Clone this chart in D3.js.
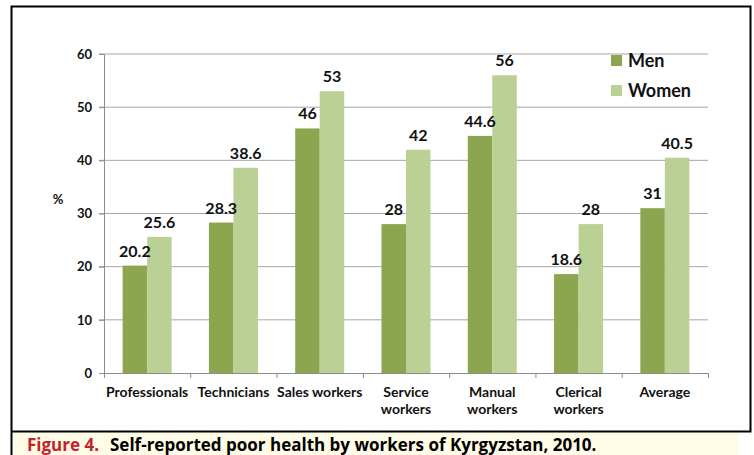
<!DOCTYPE html>
<html>
  <head>
    <title>Self-reported poor health</title>
    <script src="https://d3js.org/d3.v7.min.js"></script>
    <style>
        body { margin: 0; background: white; }
        svg { display: block; }
    </style>
  </head>
  <body>
    <svg id="chart_svg" width="754" height="455"></svg>
  </body>
  <script>
    // data
    const categories = [["Professionals"], ["Technicians"], ["Sales workers"], ["Service", "workers"],
                        ["Manual", "workers"], ["Clerical", "workers"], ["Average"]];
    const series = ["Men", "Women"];
    const menValues = [20.2, 28.3, 46, 28, 44.6, 18.6, 31];
    const womenValues = [25.6, 38.6, 53, 42, 56, 28, 40.5];
    const yTicks = [0, 10, 20, 30, 40, 50, 60];
    const colors = {"Men": "#8ba64f", "Women": "#bad094"};

    const catNames = categories.map(c => c.join(" "));
    const rows = catNames.map((c, i) => ({cat: c, Men: menValues[i], Women: womenValues[i]}));

    const svg = d3.select("#chart_svg");
    const labelFont = "Lato, 'Open Sans', sans-serif";

    // frame + caption
    svg.append("rect").attr("x", 13).attr("y", 432).attr("width", 726).attr("height", 23)
        .style("fill", "#fefce6");
    svg.append("path")
        .attr("d", "M11.5,455 L11.5,6.5 L750.5,6.5 L750.5,431.5 L11.5,431.5")
        .style("fill", "none").style("stroke", "black").style("stroke-width", 2);

    const cap = svg.append("text")
        .attr("x", 27).attr("y", 451)
        .attr("font-family", "'Open Sans', sans-serif")
        .attr("font-size", "17px")
        .attr("font-weight", "bold");
    cap.append("tspan").style("fill", "#c4232b").text("Figure 4.");
    cap.append("tspan").attr("x", 110).style("fill", "black")
        .text("Self-reported poor health by workers of Kyrgyzstan, 2010.");

    // scales
    const x0 = d3.scaleBand().domain(catNames).range([104, 708]);
    const x1 = d3.scaleBand().domain(series).range([0, x0.bandwidth()]).paddingOuter(0.76);
    const y = d3.scaleLinear().domain([0, 60]).range([373, 54]);

    // gridlines
    svg.append("g").selectAll("line")
        .data(yTicks.filter(t => t > 0))
        .enter().append("line")
        .attr("x1", 99).attr("x2", 708)
        .attr("y1", d => y(d)).attr("y2", d => y(d))
        .style("stroke", "#a6a6a6").style("stroke-width", 1);

    // y axis
    const yAxis = svg.append("g").attr("transform", "translate(104,0)")
        .call(d3.axisLeft(y).tickValues(yTicks).tickSize(5).tickPadding(7));
    yAxis.select(".domain").style("stroke", "#8c8c8c");
    yAxis.selectAll(".tick line").style("stroke", "#8c8c8c");
    yAxis.selectAll(".tick text")
        .attr("font-family", labelFont).attr("font-size", "13px")
        .attr("font-weight", "bold").style("fill", "#111");

    svg.append("text").attr("x", 58).attr("y", 204)
        .attr("text-anchor", "middle")
        .attr("font-family", labelFont).attr("font-size", "13px").attr("font-weight", "bold")
        .style("fill", "#111")
        .text("%");

    // bars
    const groups = svg.append("g").selectAll("g")
        .data(rows).enter().append("g")
        .attr("transform", d => `translate(${x0(d.cat)},0)`);

    groups.selectAll("rect")
        .data(d => series.map(s => ({s: s, v: d[s]})))
        .enter().append("rect")
        .attr("x", d => x1(d.s))
        .attr("width", x1.bandwidth())
        .attr("y", d => y(d.v))
        .attr("height", d => y(0) - y(d.v))
        .style("fill", d => colors[d.s]);

    groups.selectAll("text")
        .data(d => series.map(s => ({s: s, v: d[s]})))
        .enter().append("text")
        .attr("x", d => x1(d.s) + x1.bandwidth() / 2)
        .attr("y", d => y(d.v) - 9)
        .attr("text-anchor", "middle")
        .attr("font-family", labelFont).attr("font-size", "16px").attr("font-weight", "bold")
        .style("fill", "#111")
        .text(d => d.v);

    // x axis
    const xg = svg.append("g");
    xg.append("line").attr("x1", 104).attr("x2", 708).attr("y1", y(0) + 0.5).attr("y2", y(0) + 0.5)
        .style("stroke", "#8c8c8c");
    xg.selectAll(".xtick")
        .data(catNames.map(c => x0(c)).concat([708]))
        .enter().append("line")
        .attr("x1", d => d + 0.5).attr("x2", d => d + 0.5)
        .attr("y1", y(0)).attr("y2", y(0) + 5)
        .style("stroke", "#8c8c8c");
    categories.forEach((lines, i) => {
        const t = xg.append("text")
            .attr("text-anchor", "middle")
            .attr("font-family", labelFont).attr("font-size", "14px").attr("font-weight", "bold")
            .style("fill", "#111");
        lines.forEach((ln, j) => {
            t.append("tspan")
                .attr("x", x0(catNames[i]) + x0.bandwidth() / 2)
                .attr("y", 397 + j * 17)
                .text(ln);
        });
    });

    // legend
    const legend = svg.append("g");
    series.forEach((s, i) => {
        legend.append("rect")
            .attr("x", 611).attr("y", 55 + i * 30)
            .attr("width", 11).attr("height", 11)
            .style("fill", colors[s]);
        legend.append("text")
            .attr("x", 628).attr("y", 67 + i * 29.5)
            .attr("font-family", labelFont).attr("font-size", "18px").attr("font-weight", "bold")
            .style("fill", "#111")
            .text(s);
    });
  </script>
</html>
